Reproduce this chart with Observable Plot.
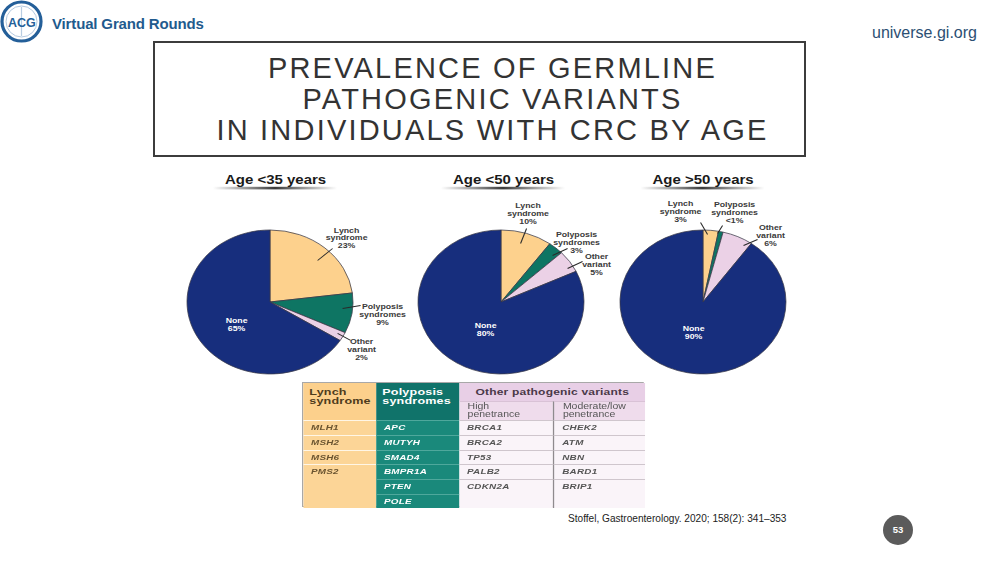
<!DOCTYPE html>
<html>
<head>
<meta charset="utf-8">
<script src="https://cdn.jsdelivr.net/npm/d3@7"></script>
<script src="https://cdn.jsdelivr.net/npm/@observablehq/plot@0.6"></script>
<style>
  html, body { margin: 0; padding: 0; background: #fff; }
  #slide { position: relative; width: 1000px; height: 563px; overflow: hidden; background: #fff; font-family: "Liberation Sans", Arial, sans-serif; }
  .abs { position: absolute; }
  #brand { left: 52px; top: 15.5px; font-size: 15px; line-height: 15px; font-weight: bold; color: #1f5b8e; letter-spacing: -0.15px; white-space: nowrap; }
  #site { left: 872px; top: 24.5px; font-size: 16px; line-height: 16px; color: #2c4f73; white-space: nowrap; }
  #titlebox { left: 153px; top: 41px; width: 653px; height: 116px; box-sizing: border-box; border: 2px solid #3c3c3c; background: #fff; }
  #title { left: 166px; top: 52.5px; width: 653px; text-align: center; font-size: 29px; line-height: 31px; letter-spacing: 2.2px; color: #333; white-space: pre; }
  #pies { left: 0; top: 165px; transform-origin: 0 0; }
  #pies svg { display: block; overflow: visible; }
  #tblwrap { left: 302px; top: 382px; width: 342px; height: 125px; }
  #tbl { transform-origin: 0 0; display: grid; box-sizing: border-box; border: 1px solid #a8a8a8; }
  #tbl div { box-sizing: border-box; overflow: hidden; white-space: pre-line; }
  .hd { font-weight: bold; font-size: 9.8px; line-height: 9.3px; padding: 3.8px 0 0 4.7px; letter-spacing: 0.15px; }
  .sub { font-size: 8.2px; line-height: 7.6px; color: #555; padding-left: 6.5px; display: flex; flex-direction: column; justify-content: center; }
  .gene { font-weight: bold; font-style: italic; font-size: 7.7px; line-height: 14.5px; padding-left: 6px; letter-spacing: 0.2px; }
  #cite { left: 568px; top: 513px; font-size: 10.1px; line-height: 12px; color: #222; white-space: nowrap; }
  #page { left: 883px; top: 515px; width: 30px; height: 30px; border-radius: 50%; background: #5b5b5b; color: #fff; font-size: 9.5px; line-height: 30px; text-align: center; font-weight: bold; }
</style>
</head>
<body>
<div id="slide">
  <svg class="abs" style="left:0;top:0" width="46" height="46" viewBox="0 0 46 46">
    <circle cx="21.5" cy="21.5" r="19.5" fill="#fff" stroke="#245f99" stroke-width="3.2"/>
    <circle cx="21.5" cy="21.5" r="15.5" fill="none" stroke="#9fbad6" stroke-width="0.8"/>
    <line x1="21.5" y1="7" x2="21.5" y2="36" stroke="#b8cde2" stroke-width="1.2"/>
    <text x="21.8" y="26.5" text-anchor="middle" font-family="Liberation Sans" font-weight="bold" font-size="12.5" fill="#245f99">ACG</text>
  </svg>
  <div id="brand" class="abs">Virtual Grand Rounds</div>
  <div id="site" class="abs">universe.gi.org</div>
  <div id="titlebox" class="abs"></div>
  <div id="title" class="abs"></div>
  <div id="pies" class="abs"></div>
  <div id="tblwrap" class="abs"><div id="tbl"></div></div>
  <div id="cite" class="abs">Stoffel, Gastroenterology. 2020; 158(2): 341–353</div>
  <div id="page" class="abs">53</div>
</div>
<script>
// ---------------- DATA ----------------
const titleLines = ["PREVALENCE OF GERMLINE", "PATHOGENIC VARIANTS", "IN INDIVIDUALS WITH CRC BY AGE"];
const ages = ["Age <35 years", "Age <50 years", "Age >50 years"];
const categories = ["Lynch syndrome", "Polyposis syndromes", "Other variant", "None"];
const categoryLabels = ["Lynch\nsyndrome", "Polyposis\nsyndromes", "Other\nvariant", "None"];
const lynch = [23, 10, 3];
const polyposis = [9, 3, 0.9];
const other = [2, 5, 6];
const none = [65, 80, 90];
const categoryColors = ["#fdd18d", "#0e7563", "#ebd1e6", "#172e7d"];

const lynchGenes = ["MLH1", "MSH2", "MSH6", "PMS2"];
const polyposisGenes = ["APC", "MUTYH", "SMAD4", "BMPR1A", "PTEN", "POLE"];
const highPenetrance = ["BRCA1", "BRCA2", "TP53", "PALB2", "CDKN2A"];
const moderatePenetrance = ["CHEK2", "ATM", "NBN", "BARD1", "BRIP1"];
const tableHeaders = ["Lynch\nsyndrome", "Polyposis\nsyndromes", "Other pathogenic variants", "High\npenetrance", "Moderate/low\npenetrance"];

// ---------------- LAYOUT (page pixels) ----------------
const S = 1.153;                 // horizontal stretch of the slide artwork
const top0 = 165, H = 215;
const pieCenters = [[270, 302], [501, 302], [703, 302]];
const pieRadius = 72;
const titleCenters = [275, 503, 702.5];
const titleY = 179, underlineY = [186.8, 189.4], underlineHalf = 62;
// per pie, per category: t = text centre offset, l = leader line offsets
const labelLayout = [
  [{t: [76, -64.5], l: [62, -54, 47, -42]}, {t: [112, 12], l: [72, 6, 90, 3]}, {t: [91, 47], l: [67, 31, 80, 38]}, {t: [-34, 22]}],
  [{t: [26.5, -89], l: [25, -74, 19, -59]}, {t: [75, -60], l: [66, -54, 51, -47]}, {t: [95, -38], l: [81, -41, 66, -34]}, {t: [-16, 27]}],
  [{t: [-23, -91], l: [-3, -80, 4, -68]}, {t: [31, -90], l: [19, -77, 14, -69]}, {t: [67, -67], l: [54, -63, 40, -57]}, {t: [-10, 30]}]
];

document.getElementById("title").textContent = titleLines.join("\n");

// ---------------- PIES ----------------
const color = Plot.scale({color: {type: "ordinal", domain: categories, range: categoryColors}});
const fmt = v => v < 1 ? "<1%" : `${v}%`;

const slices = [];
const labelRows = [];
ages.forEach((age, i) => {
  const vals = [lynch[i], polyposis[i], other[i], none[i]];
  let a0 = 0;
  categories.forEach((cat, j) => {
    const a1 = j === categories.length - 1 ? 2 * Math.PI : a0 + vals[j] / 100 * 2 * Math.PI;
    slices.push({age, index: i, category: cat, value: vals[j], a0, a1});
    a0 = a1;
    const [cx, cy] = pieCenters[i];
    const L = labelLayout[i][j];
    labelRows.push({
      age, category: cat, text: `${categoryLabels[j]}\n${fmt(vals[j])}`,
      x: cx + L.t[0], y: cy + L.t[1],
      x1: L.l ? cx + L.l[0] : null, y1: L.l ? cy + L.l[1] : null,
      x2: L.l ? cx + L.l[2] : null, y2: L.l ? cy + L.l[3] : null
    });
  });
});

function pieMark(index, scales) {
  const g = d3.create("svg:g");
  const lg = g.append("defs").append("linearGradient").attr("id", "ul")
    .attr("x1", 0).attr("x2", 1).attr("y1", 0).attr("y2", 0);
  [[0, 0], [0.18, 0.35], [0.5, 1], [0.82, 0.35], [1, 0]].forEach(([o, op]) =>
    lg.append("stop").attr("offset", o).attr("stop-color", "#3a3a3a").attr("stop-opacity", op));
  const R = scales.y(top0 + pieRadius) - scales.y(top0);
  const arc = d3.arc().innerRadius(0).outerRadius(R);
  for (const s of slices) {
    const [cx, cy] = pieCenters[s.index];
    g.append("path")
      .attr("transform", `translate(${scales.x(cx)},${scales.y(cy)})`)
      .attr("d", arc({startAngle: s.a0, endAngle: s.a1}))
      .attr("fill", color.apply(s.category))
      .attr("stroke", "#3a3a48")
      .attr("stroke-width", 0.7)
      .attr("stroke-linejoin", "round");
  }
  return g.node();
}

const titleRows = ages.map((a, i) => ({age: a, x: titleCenters[i]}));
const leaderRows = labelRows.filter(d => d.x1 != null);

const chart = Plot.plot({
  width: 1000 / S,
  height: H,
  margin: 0,
  style: {fontFamily: "Liberation Sans, Arial, sans-serif", background: "transparent", overflow: "visible"},
  x: {domain: [0, 1000], range: [0, 1000 / S], axis: null},
  y: {domain: [top0, top0 + H], range: [0, H], axis: null},
  marks: [
    pieMark,
    Plot.rect(titleRows, {x1: d => d.x - underlineHalf, x2: d => d.x + underlineHalf, y1: underlineY[0], y2: underlineY[1], fill: "url(#ul)"}),
    Plot.text(titleRows, {x: "x", y: titleY, text: "age", fontSize: 13, fontWeight: "bold", fill: "#1a1a1a"}),
    Plot.link(leaderRows, {x1: "x1", y1: "y1", x2: "x2", y2: "y2", stroke: "#2a2a2a", strokeWidth: 0.9}),
    Plot.text(labelRows.filter(d => d.category !== "None"), {x: "x", y: "y", text: "text", fontSize: 7.6, lineHeight: 1.0, fontWeight: "bold", fill: "#3a3a3a"}),
    Plot.text(labelRows.filter(d => d.category === "None"), {x: "x", y: "y", text: "text", fontSize: 7.6, lineHeight: 1.0, fontWeight: "bold", fill: "#ffffff"})
  ]
});
const piesDiv = document.getElementById("pies");
piesDiv.style.transform = `scaleX(${S})`;
piesDiv.appendChild(chart);

// ---------------- TABLE ----------------
const TS = 1.28;
const colW = [73, 83, 94, 92].map(w => w / TS);
const rowH = [18, 19, 15, 15, 14, 15, 15, 14];
const tbl = document.getElementById("tbl");
tbl.style.transform = `scaleX(${TS})`;
tbl.style.width = (342 / TS) + "px";
tbl.style.height = "125px";
tbl.style.gridTemplateColumns = colW.map(w => w + "px").join(" ");
tbl.style.gridTemplateRows = rowH.map(h => h + "px").join(" ");

function cell(text, col, row, cls, style) {
  const d = document.createElement("div");
  d.className = cls;
  d.textContent = text;
  d.style.gridColumn = col;
  d.style.gridRow = row;
  Object.assign(d.style, style);
  tbl.appendChild(d);
}
cell(tableHeaders[0], "1", "1 / 3", "hd", {background: "#fcd08c", color: "#4e3b1c"});
cell(tableHeaders[1], "2", "1 / 3", "hd", {background: "#10736a", color: "#ffffff"});
cell(tableHeaders[2], "3 / 5", "1", "hd", {background: "#e8cfe6", color: "#4a3848", textAlign: "center", padding: "0", fontSize: "9.4px", lineHeight: "18px"});
cell(tableHeaders[3], "3", "2", "sub", {background: "#efdcec", borderTop: "1px solid #d9c2d6"});
cell(tableHeaders[4], "4", "2", "sub", {background: "#efdcec", borderTop: "1px solid #d9c2d6", borderLeft: "1.3px solid #8f8a8e"});

const nRows = polyposisGenes.length;
function column(genes, col, st) {
  genes.forEach((g, r) => {
    const last = r === genes.length - 1;
    const span = last ? nRows - r : 1;
    cell(g, String(col), `${r + 3} / ${r + 3 + span}`, "gene", st);
  });
}
column(lynchGenes, 1, {background: "#fcd597", color: "#6a5430", borderTop: "1px solid #fff6e6"});
column(polyposisGenes, 2, {background: "#1a897b", color: "#ffffff", borderTop: "1px solid #4fa89c"});
column(highPenetrance, 3, {background: "#faf4f9", color: "#555", borderTop: "1px solid #cfc6cd"});
column(moderatePenetrance, 4, {background: "#faf4f9", color: "#555", borderTop: "1px solid #cfc6cd", borderLeft: "1.3px solid #8f8a8e"});
</script>
</body>
</html>
